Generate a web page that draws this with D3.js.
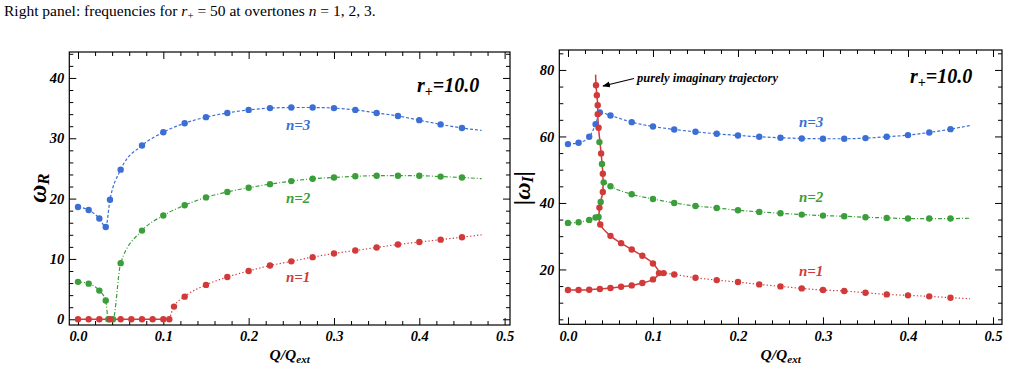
<!DOCTYPE html>
<html>
<head>
<meta charset="utf-8">
<script src="https://cdn.jsdelivr.net/npm/d3@7"></script>
<style>
  body { margin: 0; background: #fff; }
  svg text { font-family: "Liberation Serif", "Times New Roman", serif; }
</style>
</head>
<body>
<svg id="chart" width="1011" height="371"></svg>
<script>
// ---- data ----
const qMain = [0, 0.0125, 0.025, 0.0325, 0.0375, 0.05, 0.075, 0.1, 0.125, 0.15, 0.175, 0.2, 0.225, 0.25, 0.275, 0.3, 0.325, 0.35, 0.375, 0.4, 0.425, 0.45];
const qEnd = 0.473;

// left panel: omega_R
const wR3 = [18.6, 18.1, 16.7, 15.3, 19.8, 24.8, 28.8, 31.0, 32.5, 33.5, 34.2, 34.7, 35.0, 35.1, 35.1, 35.0, 34.7, 34.2, 33.7, 33.0, 32.3, 31.7];
const wR3End = 31.3;
const qR2 = [0, 0.0125, 0.025, 0.0325, 0.0355, 0.041, 0.05, 0.075, 0.1, 0.125, 0.15, 0.175, 0.2, 0.225, 0.25, 0.275, 0.3, 0.325, 0.35, 0.375, 0.4, 0.425, 0.45];
const wR2 = [6.2, 5.9, 4.75, 3.1, 0, 0, 9.3, 14.7, 17.2, 18.9, 20.2, 21.1, 21.8, 22.4, 22.9, 23.3, 23.5, 23.7, 23.8, 23.8, 23.8, 23.65, 23.5];
const wR2End = 23.3;
const qR1Imag = [0, 0.0125, 0.025, 0.0375, 0.05, 0.0625, 0.075, 0.0875, 0.1, 0.107];
const wR1Imag = [0, 0, 0, 0, 0, 0, 0, 0, 0, 0];
const qR1 = [0.1125, 0.125, 0.15, 0.175, 0.2, 0.225, 0.25, 0.275, 0.3, 0.325, 0.35, 0.375, 0.4, 0.425, 0.45];
const wR1 = [2.1, 3.75, 5.7, 7.0, 8.0, 8.9, 9.6, 10.3, 10.9, 11.4, 11.9, 12.4, 12.8, 13.2, 13.6];
const wR1End = 14.0;

// right panel: |omega_I|
const wI3 = [57.7, 58.1, 59.9, 63.7, 67.2, 66.3, 64.3, 63.0, 62.1, 61.4, 60.8, 60.3, 59.9, 59.6, 59.4, 59.3, 59.3, 59.5, 59.9, 60.4, 61.2, 62.2];
const wI3End = 63.3;
const qI2 = [0, 0.0125, 0.025, 0.0325, 0.036, 0.0385, 0.042, 0.05, 0.075, 0.1, 0.125, 0.15, 0.175, 0.2, 0.225, 0.25, 0.275, 0.3, 0.325, 0.35, 0.375, 0.4, 0.425, 0.45];
const wI2 = [34.0, 34.2, 34.9, 35.6, 35.8, 40.3, 46.2, 45.0, 42.6, 41.2, 40.0, 39.1, 38.5, 37.8, 37.3, 36.9, 36.5, 36.2, 36.0, 35.7, 35.5, 35.3, 35.3, 35.3];
const wI2End = 35.4;
const qI2Extra = [0.04, 0.037];
const wI2Extra = [51.7, 58.3];
// n=1 purely imaginary trajectory (lower branch out, upper branch back, then up)
const trajQ = [0, 0.0125, 0.025, 0.0375, 0.05, 0.0625, 0.075, 0.0875, 0.1, 0.107, 0.1, 0.0875, 0.075, 0.0625, 0.05, 0.038, 0.037, 0.041, 0.041, 0.039, 0.036, 0.035, 0.035, 0.034, 0.033];
const trajW = [13.8, 13.8, 13.9, 14.1, 14.4, 14.8, 15.2, 15.9, 17.0, 18.9, 21.8, 24.1, 26.0, 27.9, 30.1, 33.5, 38.6, 43.3, 48.8, 54.9, 62.6, 66.7, 69.4, 72.4, 75.4];
const trajEndQ = 0.0325, trajEndW = 78.6;
const qI1 = [0.1125, 0.125, 0.15, 0.175, 0.2, 0.225, 0.25, 0.275, 0.3, 0.325, 0.35, 0.375, 0.4, 0.425, 0.45];
const wI1 = [18.9, 18.5, 17.5, 16.8, 16.2, 15.5, 14.9, 14.3, 13.8, 13.5, 13.0, 12.5, 12.2, 11.9, 11.5];
const wI1End = 11.2;

const xTicks = [0, 0.1, 0.2, 0.3, 0.4, 0.5];
const yTicksL = [0, 10, 20, 30, 40];
const yTicksR = [20, 40, 60, 80];

const BLUE = '#3b6fd6', GREEN = '#3a9e3a', RED = '#d23a3a';

const svg = d3.select('#chart');

// caption
const cap = svg.append('text').attr('x', 4).attr('y', 16).attr('font-size', 15.5);
cap.append('tspan').text('Right panel: frequencies for ');
cap.append('tspan').attr('font-style', 'italic').text('r');
cap.append('tspan').attr('font-size', 11).attr('dy', 3).text('+');
cap.append('tspan').attr('dy', -3).text(' = 50 at overtones ');
cap.append('tspan').attr('font-style', 'italic').text('n');
cap.append('tspan').text(' = 1, 2, 3.');

const xL = d3.scaleLinear().domain([-0.0102, 0.5063]).range([69.3, 510]);
const yL = d3.scaleLinear().domain([-0.95, 44.3]).range([325, 52]);
const xR = d3.scaleLinear().domain([-0.0102, 0.5106]).range([559.3, 1002]);
const yR = d3.scaleLinear().domain([3.5, 86]).range([324.3, 50]);

function minorOf(majors, step, lo, hi) {
  return d3.range(lo, hi + 1e-9, step).filter(v => !majors.some(m => Math.abs(m - v) < 1e-9));
}

function styleAxis(g) {
  g.select('.domain').remove();
  g.attr('font-family', null).attr('font-size', 14.5)
    .attr('font-weight', 'bold').attr('font-style', 'italic');
  g.selectAll('line').attr('stroke', '#000').attr('stroke-width', 1);
}

function frame(x, y, yMajor, yMinor, yFmt) {
  const g = svg.append('g');
  const [x0, x1] = x.range(), [y0, y1] = y.range();
  const xMinor = minorOf(xTicks, 0.02, 0, 0.5);

  g.append('g').attr('transform', `translate(0,${y0})`)
    .call(d3.axisBottom(x).tickValues(xTicks).tickSize(-7).tickPadding(6).tickFormat(d3.format('.1f'))).call(styleAxis);
  g.append('g').attr('transform', `translate(0,${y0})`)
    .call(d3.axisBottom(x).tickValues(xMinor).tickSize(-4).tickFormat('')).call(styleAxis);
  g.append('g').attr('transform', `translate(0,${y1})`)
    .call(d3.axisTop(x).tickValues(xTicks).tickSize(-7).tickFormat('')).call(styleAxis);
  g.append('g').attr('transform', `translate(0,${y1})`)
    .call(d3.axisTop(x).tickValues(xMinor).tickSize(-4).tickFormat('')).call(styleAxis);

  g.append('g').attr('transform', `translate(${x0},0)`)
    .call(d3.axisLeft(y).tickValues(yMajor).tickSize(-7).tickPadding(5).tickFormat(yFmt)).call(styleAxis);
  g.append('g').attr('transform', `translate(${x0},0)`)
    .call(d3.axisLeft(y).tickValues(yMinor).tickSize(-4).tickFormat('')).call(styleAxis);
  g.append('g').attr('transform', `translate(${x1},0)`)
    .call(d3.axisRight(y).tickValues(yMajor).tickSize(-7).tickFormat('')).call(styleAxis);
  g.append('g').attr('transform', `translate(${x1},0)`)
    .call(d3.axisRight(y).tickValues(yMinor).tickSize(-4).tickFormat('')).call(styleAxis);

  g.append('rect').attr('x', x0).attr('y', y1).attr('width', x1 - x0).attr('height', y0 - y1)
    .attr('fill', 'none').attr('stroke', '#000').attr('stroke-width', 1.2);

  // x title Q/Q_ext
  const t = g.append('text').attr('x', (x0 + x1) / 2).attr('y', 360).attr('text-anchor', 'middle')
    .attr('font-size', 15.5).attr('font-weight', 'bold').attr('font-style', 'italic');
  t.append('tspan').text('Q/Q');
  t.append('tspan').attr('font-size', 11).attr('dy', 3).text('ext');
}

function rplus(x, y) {
  const t = svg.append('text').attr('x', x).attr('y', y).attr('font-size', 20)
    .attr('font-weight', 'bold').attr('font-style', 'italic');
  t.append('tspan').text('r');
  t.append('tspan').attr('font-size', 14).attr('dy', 4).text('+');
  t.append('tspan').attr('dy', -4).text('=10.0');
}

function curve(x, y, qs, ws, color, dash, width, interp) {
  const line = d3.line().x((d, i) => x(qs[i])).y((d, i) => y(ws[i])).curve(interp || d3.curveMonotoneX);
  svg.append('path').attr('d', line(qs)).attr('fill', 'none').attr('stroke', color)
    .attr('stroke-width', width || 1.2).attr('stroke-dasharray', dash);
}

function dots(x, y, qs, ws, color) {
  svg.append('g').selectAll('circle').data(qs).join('circle')
    .attr('cx', d => x(d)).attr('cy', (d, i) => y(ws[i])).attr('r', 3.2).attr('fill', color);
}

function label(x, y, q, w, txt, color) {
  svg.append('text').attr('x', x(q)).attr('y', y(w)).attr('text-anchor', 'middle')
    .attr('font-size', 15).attr('font-weight', 'bold').attr('font-style', 'italic')
    .attr('fill', color).text(txt);
}

// ---- left panel ----
frame(xL, yL, yTicksL, minorOf(yTicksL, 2, 0, 44), d3.format('d'));

curve(xL, yL, qMain.concat([qEnd]), wR3.concat([wR3End]), BLUE, '3,2');
curve(xL, yL, qR2.concat([qEnd]), wR2.concat([wR2End]), GREEN, '4,2,1,2');
curve(xL, yL, qR1Imag, wR1Imag, RED, null, 1.5, d3.curveLinear);
curve(xL, yL, [qR1Imag[qR1Imag.length - 1]].concat(qR1, [qEnd]), [0].concat(wR1, [wR1End]), RED, '1.3,2.2');
dots(xL, yL, qMain, wR3, BLUE);
dots(xL, yL, qR2, wR2, GREEN);
dots(xL, yL, qR1Imag, wR1Imag, RED);
dots(xL, yL, qR1, wR1, RED);

label(xL, yL, 0.258, 31.4, 'n=3', BLUE);
label(xL, yL, 0.258, 19.3, 'n=2', GREEN);
label(xL, yL, 0.258, 6.2, 'n=1', RED);
rplus(417, 92);

// y title omega_R
const tyL = svg.append('text').attr('transform', 'translate(46,188) rotate(-90)').attr('text-anchor', 'middle')
  .attr('font-size', 25).attr('font-weight', 'bold').attr('font-style', 'italic');
tyL.append('tspan').text('ω');
tyL.append('tspan').attr('font-size', 17).attr('dy', 3).text('R');

// ---- right panel ----
frame(xR, yR, yTicksR, minorOf(yTicksR, 5, 5, 85), d3.format('d'));

curve(xR, yR, qMain.concat([qEnd]), wI3.concat([wI3End]), BLUE, '3,2');
curve(xR, yR, qI2.concat([qEnd]), wI2.concat([wI2End]), GREEN, '4,2,1,2');
curve(xR, yR, trajQ.concat([trajEndQ]), trajW.concat([trajEndW]), RED, null, 1.5, d3.curveCatmullRom);
curve(xR, yR, [trajQ[9]].concat(qI1, [qEnd]), [trajW[9]].concat(wI1, [wI1End]), RED, '1.3,2.2');
dots(xR, yR, qMain, wI3, BLUE);
dots(xR, yR, qI2, wI2, GREEN);
dots(xR, yR, qI2Extra, wI2Extra, GREEN);
dots(xR, yR, trajQ, trajW, RED);
dots(xR, yR, qI1, wI1, RED);

label(xR, yR, 0.286, 62.8, 'n=3', BLUE);
label(xR, yR, 0.286, 40.2, 'n=2', GREEN);
label(xR, yR, 0.286, 18.0, 'n=1', RED);
rplus(910, 83);

// annotation with arrow
svg.append('defs').append('marker').attr('id', 'ah').attr('viewBox', '0 0 10 10')
  .attr('refX', 9).attr('refY', 5).attr('markerWidth', 7).attr('markerHeight', 7).attr('orient', 'auto')
  .append('path').attr('d', 'M0,1 L10,5 L0,9 Z').attr('fill', '#000');
svg.append('line').attr('x1', 634).attr('y1', 78.5).attr('x2', 603).attr('y2', 86)
  .attr('stroke', '#000').attr('stroke-width', 1.1).attr('marker-end', 'url(#ah)');
svg.append('text').attr('x', 637).attr('y', 82).attr('font-size', 12.5)
  .attr('font-weight', 'bold').attr('font-style', 'italic').text('purely imaginary trajectory');

// y title |omega_I|
const tyR = svg.append('text').attr('transform', 'translate(530,188) rotate(-90)').attr('text-anchor', 'middle')
  .attr('font-size', 24).attr('font-weight', 'bold').attr('font-style', 'italic');
tyR.append('tspan').text('|ω');
tyR.append('tspan').attr('font-size', 16).attr('dy', 3).text('I');
tyR.append('tspan').attr('dy', -3).text('|');
</script>
</body>
</html>
